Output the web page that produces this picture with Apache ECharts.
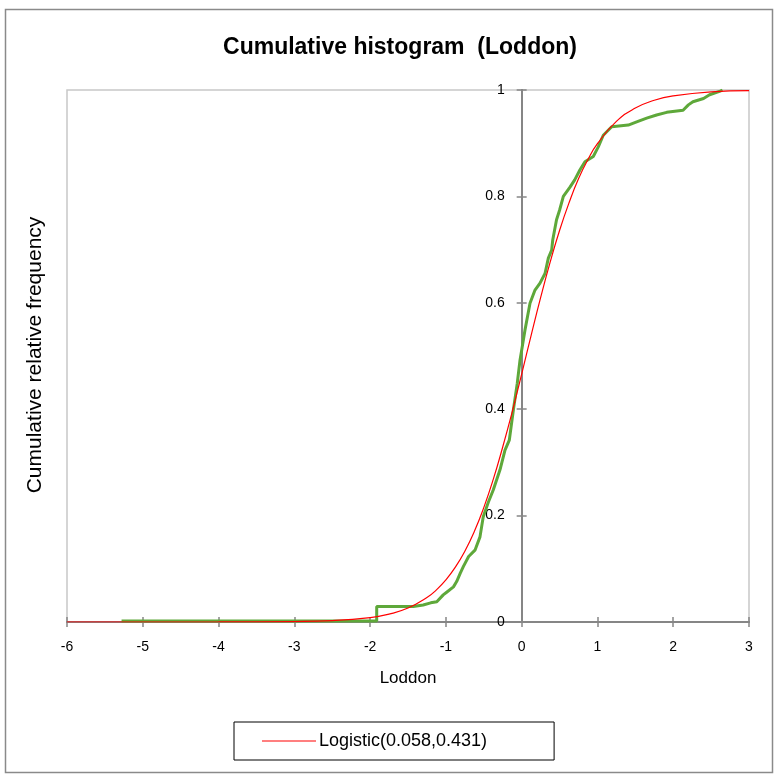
<!DOCTYPE html>
<html>
<head>
<meta charset="utf-8">
<script src="https://cdn.jsdelivr.net/npm/echarts@6/dist/echarts.min.js"></script>
<style>
  html, body { margin: 0; padding: 0; background: #fff; }
  #chart { width: 777px; height: 776px; }
</style>
</head>
<body>
<div id="chart"></div>
<script>
// Empirical cumulative distribution of the Loddon data (x, cumulative relative frequency)
const empiricalX = [-5.28, -1.913, -1.913, -1.43, -1.30, -1.20, -1.12, -1.035, -0.99, -0.90, -0.858, -0.81, -0.77,
  -0.70, -0.616, -0.594, -0.55, -0.507, -0.44, -0.375, -0.286, -0.22, -0.163, -0.11, -0.058, -0.022, 0.0,
  0.044, 0.11, 0.176, 0.242, 0.308, 0.352, 0.396, 0.41, 0.46, 0.50, 0.55, 0.64, 0.70, 0.77, 0.835, 0.945,
  1.011, 1.077, 1.188, 1.407, 1.518, 1.65, 1.78, 1.913, 2.13, 2.20, 2.26, 2.40, 2.48, 2.62, 2.65];
const empiricalY = [0.002, 0.002, 0.029, 0.029, 0.032, 0.036, 0.038, 0.051, 0.056, 0.066, 0.076, 0.092, 0.104,
  0.123, 0.135, 0.137, 0.160, 0.198, 0.225, 0.248, 0.286, 0.323, 0.342, 0.398, 0.449, 0.492, 0.511,
  0.549, 0.599, 0.624, 0.637, 0.655, 0.684, 0.699, 0.718, 0.756, 0.774, 0.800, 0.818, 0.831, 0.850, 0.865, 0.875,
  0.893, 0.915, 0.931, 0.934, 0.940, 0.947, 0.953, 0.958, 0.962, 0.972, 0.978, 0.984, 0.991, 0.998, 1.0];

// Fitted logistic CDF, Logistic(0.058, 0.431), tabulated
const logisticX = [-6, -5, -4, -3, -2.5, -2, -1.75, -1.5, -1.25, -1.125, -1, -0.875, -0.75, -0.625, -0.5, -0.375,
  -0.25, -0.125, 0, 0.125, 0.25, 0.375, 0.5, 0.625, 0.75, 0.875, 1, 1.25, 1.5, 1.75, 2, 2.5, 3];
const logisticY = [0.0000008, 0.000008, 0.00008, 0.00083, 0.00264, 0.00836, 0.0148, 0.0262, 0.0459, 0.0604, 0.0791,
  0.103, 0.133, 0.170, 0.215, 0.268, 0.329, 0.395, 0.466, 0.5388, 0.6096, 0.676, 0.736, 0.788, 0.833, 0.8694,
  0.899, 0.941, 0.966, 0.9807, 0.989, 0.9966, 0.9989];

const xTicks = [-6, -5, -4, -3, -2, -1, 0, 1, 2, 3];
const yTicks = [0, 0.2, 0.4, 0.6, 0.8, 1];

const seriesName = 'Logistic(0.058,0.431)';
const titleText = 'Cumulative histogram  (Loddon)';
const xTitle = 'Loddon';
const yTitle = 'Cumulative relative frequency';

const zip = (xs, ys) => xs.map((x, i) => [x, ys[i]]);

// Plot rectangle
const gridLeft = 67, gridTop = 90, gridRight = 28, gridBottom = 154;
const plotW = 777 - gridLeft - gridRight;
const plotH = 776 - gridTop - gridBottom;
const xMin = xTicks[0], xMax = xTicks[xTicks.length - 1];
const yMin = yTicks[0], yMax = yTicks[yTicks.length - 1];
// Vertical axis crosses at x = 0: shift it in from the grid edges
const zeroFromLeft = (0 - xMin) / (xMax - xMin) * plotW;
const zeroFromRight = plotW - zeroFromLeft;

const axisColor = '#868686';
const labelFont = { fontFamily: 'Liberation Sans', fontSize: 14, color: '#000' };
const axisLine = { onZero: false, lineStyle: { color: axisColor, width: 2 } };
const axisTick = { show: true, length: 5, lineStyle: { color: axisColor, width: 1.5 } };

const chart = echarts.init(document.getElementById('chart'), null, { renderer: 'canvas' });

chart.setOption({
  animation: false,
  backgroundColor: '#fff',
  title: {
    text: titleText,
    left: 395,
    top: 31,
    textAlign: 'center',
    textStyle: { fontFamily: 'Liberation Sans', fontSize: 23, fontWeight: 'bold', color: '#000' }
  },
  grid: {
    left: gridLeft, top: gridTop, right: gridRight, bottom: gridBottom,
    show: true, borderColor: '#c8c8c8', borderWidth: 1.5, backgroundColor: 'transparent'
  },
  legend: {
    show: true,
    data: [{ name: seriesName, icon: 'rect' }],
    left: 234, top: 722,
    itemWidth: 54, itemHeight: 1, itemGap: 4,
    padding: [10, 67, 10, 28],
    borderColor: '#000', borderWidth: 1,
    textStyle: { fontFamily: 'Liberation Sans', fontSize: 18, color: '#000', padding: [0, 0, 0, -2] }
  },
  xAxis: [{
    type: 'value', min: xMin, max: xMax, interval: 1,
    position: 'bottom',
    axisLine, axisTick,
    axisLabel: { ...labelFont, margin: 18 },
    splitLine: { show: false },
    name: xTitle, nameLocation: 'middle', nameGap: 48,
    nameTextStyle: { fontFamily: 'Liberation Sans', fontSize: 17, color: '#000' }
  }, {
    // upward half of the crossing tick marks
    type: 'value', min: xMin, max: xMax, interval: 1,
    position: 'top', offset: -plotH,
    axisLine, axisTick,
    axisLabel: { show: false },
    splitLine: { show: false }
  }],
  yAxis: [{
    type: 'value', min: yMin, max: yMax, interval: 0.2,
    position: 'left', offset: -zeroFromLeft,
    axisLine, axisTick,
    axisLabel: { ...labelFont, margin: 17 },
    splitLine: { show: false }
  }, {
    // rightward half of the crossing tick marks
    type: 'value', min: yMin, max: yMax, interval: 0.2,
    position: 'right', offset: -zeroFromRight,
    axisLine, axisTick,
    axisLabel: { show: false },
    splitLine: { show: false }
  }],
  graphic: [
    {
      type: 'rect', silent: true,
      shape: { x: 5.5, y: 9.5, width: 767, height: 763 },
      style: { fill: 'none', stroke: '#8a8a8a', lineWidth: 1.5 }
    },
    {
      type: 'text', silent: true,
      x: 35, y: 355, rotation: Math.PI / 2,
      style: {
        text: yTitle, fill: '#000', font: '21px "Liberation Sans"',
        textAlign: 'center', textVerticalAlign: 'middle'
      }
    }
  ],
  series: [
    {
      name: 'Empirical',
      type: 'line',
      xAxisIndex: 0, yAxisIndex: 0,
      data: zip(empiricalX, empiricalY),
      showSymbol: false, symbol: 'none',
      lineStyle: { color: '#5ea83a', width: 3 },
      z: 3
    },
    {
      name: seriesName,
      type: 'line',
      xAxisIndex: 0, yAxisIndex: 0,
      data: zip(logisticX, logisticY),
      smooth: true,
      showSymbol: false, symbol: 'none',
      itemStyle: { color: '#ff0000' },
      lineStyle: { color: '#ff0000', width: 1.2 },
      z: 4
    }
  ]
});
</script>
</body>
</html>
